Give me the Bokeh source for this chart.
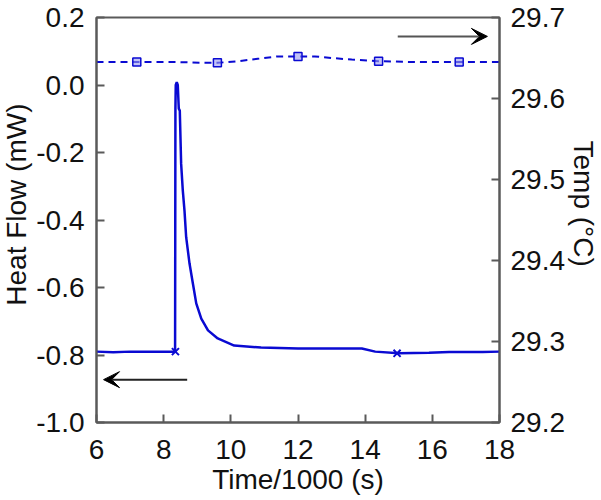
from bokeh.plotting import figure
from bokeh.models import (Range1d, LinearAxis, FixedTicker, PrintfTickFormatter,
                          Arrow, VeeHead, Title)
from bokeh.embed import file_html
from bokeh.resources import INLINE

# ---- data ----
time_hf = [6.0, 6.5, 7.0, 7.5, 8.0, 8.34, 8.35, 8.36, 8.39, 8.42, 8.45, 8.48, 8.52,
           8.57, 8.62, 8.67, 8.77, 8.87, 8.97, 9.12, 9.32, 9.61, 10.1, 10.9, 12.0,
           13.0, 13.9, 14.3, 15.0, 15.9, 16.5, 17.5, 18.0]
heat_flow = [-0.790, -0.792, -0.790, -0.790, -0.790, -0.790, -0.070, 0.000, 0.008,
             0.000, -0.070, -0.076, -0.233, -0.313, -0.372, -0.451, -0.529, -0.588,
             -0.647, -0.692, -0.727, -0.751, -0.772, -0.778, -0.781, -0.781, -0.781,
             -0.790, -0.795, -0.793, -0.791, -0.791, -0.790]
hf_marker_time = [8.35, 14.95]
hf_marker_val = [-0.790, -0.795]

time_temp = [6.0, 7.2, 8.4, 9.2, 9.6, 10.2, 10.8, 11.4, 12.0, 12.5, 13.0, 13.6,
             14.4, 15.5, 16.8, 18.0]
temp = [29.645, 29.645, 29.645, 29.644, 29.644, 29.646, 29.649, 29.652, 29.652,
        29.652, 29.650, 29.648, 29.646, 29.645, 29.645, 29.645]
temp_marker_time = [7.2, 9.6, 12.0, 14.4, 16.8]
temp_marker_val = [29.645, 29.644, 29.652, 29.646, 29.645]

x_ticks = [6, 8, 10, 12, 14, 16, 18]
hf_ticks = [0.2, 0.0, -0.2, -0.4, -0.6, -0.8, -1.0]
temp_ticks = [29.2, 29.3, 29.4, 29.5, 29.6, 29.7]

x_title = "Time/1000 (s)"
y_title = "Heat Flow (mW)"
y2_title = "Temp (°C)"

# arrows (data coords on heat-flow axis)
arrow_left = dict(x0=8.70, x1=6.21, y=-0.873)
arrow_right = dict(x0=14.97, x1=17.64, y=0.144)

FONT = "Liberation Sans"
FS = "28px"
BLUE = "#0a0ad2"
AXC = "#5a5a5a"
TXT = "#111111"

p = figure(width=601, height=500, output_backend="svg", toolbar_location=None,
           x_range=Range1d(6, 18), y_range=Range1d(-1.0, 0.2),
           min_border_left=95, min_border_right=102, min_border_top=17,
           min_border_bottom=78)
p.extra_y_ranges = {"temp": Range1d(29.2, 29.7)}
p.xgrid.visible = False
p.ygrid.visible = False
p.outline_line_color = AXC
p.outline_line_width = 2
p.background_fill_color = "white"
p.border_fill_color = "white"

def style(ax):
    ax.axis_line_color = AXC
    ax.axis_line_width = 2
    ax.major_tick_line_color = AXC
    ax.major_tick_line_width = 2
    ax.major_tick_in = 8
    ax.major_tick_out = 0
    ax.minor_tick_line_color = None
    ax.major_label_text_font = FONT
    ax.major_label_text_font_size = FS
    ax.major_label_text_color = TXT

xa = p.xaxis[0]
style(xa)
xa.ticker = FixedTicker(ticks=x_ticks)
xa.formatter = PrintfTickFormatter(format="%d")
xa.major_label_standoff = 17

ya = p.yaxis[0]
style(ya)
ya.ticker = FixedTicker(ticks=hf_ticks)
ya.formatter = PrintfTickFormatter(format="%.1f")
ya.major_label_standoff = 12

ra = LinearAxis(y_range_name="temp")
style(ra)
ra.ticker = FixedTicker(ticks=temp_ticks)
ra.formatter = PrintfTickFormatter(format="%.1f")
ra.major_label_standoff = 11
p.add_layout(ra, "right")

# axis titles as side-panel titles
def side_title(text, side, align="center", offset=0, valign="bottom"):
    t = Title(text=text, align=align, vertical_align=valign, text_font=FONT,
              text_font_size=FS, text_font_style="normal", text_color=TXT,
              standoff=0, offset=offset)
    p.add_layout(t, side)

side_title(x_title, "below")
side_title(y_title, "left", align="right", offset=86, valign="top")
side_title(y2_title, "right", align="left", offset=123)

# temperature (dashed, right axis)
p.line(time_temp, temp, y_range_name="temp", line_color=BLUE, line_width=2,
       line_dash="7 5")
p.scatter(temp_marker_time, temp_marker_val, y_range_name="temp", marker="square",
          size=8, line_color=BLUE, fill_color="#9a9af0", fill_alpha=0.6, line_width=1.5)

# heat flow (solid, left axis)
p.line(time_hf, heat_flow, line_color=BLUE, line_width=2.5)
p.scatter(hf_marker_time, hf_marker_val, marker="x", size=10, line_color=BLUE,
          line_width=2)

# arrows
p.add_layout(Arrow(end=VeeHead(size=16, fill_color="black", line_color="black"),
                   x_start=arrow_left["x0"], x_end=arrow_left["x1"],
                   y_start=arrow_left["y"], y_end=arrow_left["y"],
                   line_color="#222222", line_width=2))
p.add_layout(Arrow(end=VeeHead(size=16, fill_color="black", line_color="black"),
                   x_start=arrow_right["x0"], x_end=arrow_right["x1"],
                   y_start=arrow_right["y"], y_end=arrow_right["y"],
                   line_color="#555555", line_width=2))

open("out.html", "w").write(file_html(p, INLINE))
